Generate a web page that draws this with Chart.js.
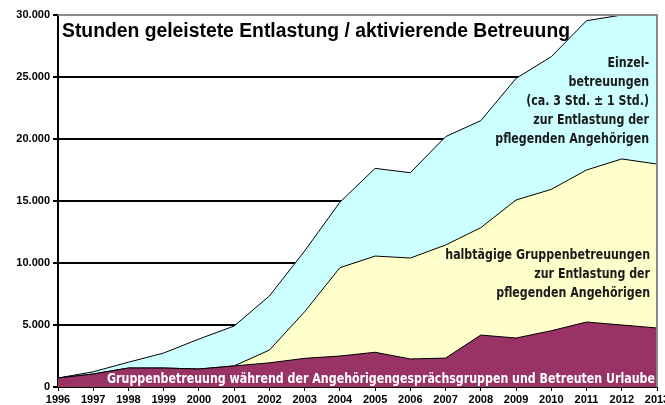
<!DOCTYPE html>
<html>
<head>
<meta charset="utf-8">
<script src="https://cdn.jsdelivr.net/npm/chart.js@4/dist/chart.umd.min.js"></script>
<style>
  html, body { margin: 0; padding: 0; background: #fff; }
  #wrap { width: 665px; height: 405px; position: relative; }
</style>
</head>
<body>
<div id="wrap"><canvas id="chart" width="665" height="405"></canvas></div>
<script>
// DATEN
const jahre = ["1996","1997","1998","1999","2000","2001","2002","2003","2004","2005","2006","2007","2008","2009","2010","2011","2012","2013"];
// Gruppenbetreuung (unten)
const gruppen = [725, 1050, 1530, 1530, 1450, 1700, 1950, 2310, 2500, 2800, 2260, 2330, 4190, 3950, 4540, 5240, 5000, 4760];
// halbtägige Gruppenbetreuungen (Mitte)
const halbtags = [0, 0, 0, 0, 0, 0, 1030, 3760, 7120, 7760, 8140, 9120, 8660, 11130, 11400, 12260, 13390, 13220];
// Einzelbetreuungen (oben)
const einzel = [0, 180, 470, 1210, 2420, 3220, 4360, 4900, 5280, 7070, 6880, 8740, 8630, 9810, 10700, 12040, 11610, 12020];
const yTicks = [0, 5000, 10000, 15000, 20000, 25000, 30000];

const titel = "Stunden geleistete Entlastung / aktivierende Betreuung";
const textEinzel = ["Einzel-", "betreuungen", "(ca. 3 Std. \u00B1 1 Std.)", "zur Entlastung der", "pflegenden Angeh\u00F6rigen"];
const textHalbtags = ["halbt\u00E4gige Gruppenbetreuungen", "zur Entlastung der", "pflegenden Angeh\u00F6rigen"];
const textGruppen = "Gruppenbetreuung w\u00E4hrend der Angeh\u00F6rigengespr\u00E4chsgruppen und Betreuten Urlaube";

const fmt = (v) => v === 0 ? "0" : v.toLocaleString("de-DE");
const condFont = '"DejaVu Sans Condensed", "Liberation Sans Narrow", sans-serif';

// Text schmal gestaucht zeichnen (ähnlich einer Condensed-Schrift)
function schmalText(ctx, text, x, y, align, sx) {
  ctx.save();
  ctx.translate(x, y);
  ctx.scale(sx, 1);
  ctx.textAlign = align;
  ctx.fillText(text, 0, 0);
  ctx.restore();
}

const beschriftung = {
  id: "beschriftung",
  afterDatasetsDraw(chart) {
    const { ctx, chartArea: a } = chart;
    ctx.save();
    // grauer Rahmen oben/rechts
    ctx.strokeStyle = "#8a8a8a";
    ctx.lineWidth = 2;
    ctx.beginPath();
    ctx.moveTo(a.left, a.top);
    ctx.lineTo(a.right, a.top);
    ctx.lineTo(a.right, a.bottom);
    ctx.stroke();

    // Titel
    ctx.font = 'bold 20px "Liberation Sans", Arial, sans-serif';
    const tg = 20 * 508 / ctx.measureText(titel).width;
    ctx.font = "bold " + tg.toFixed(2) + 'px "Liberation Sans", Arial, sans-serif';
    ctx.fillStyle = "#000";
    ctx.textAlign = "left";
    ctx.textBaseline = "alphabetic";
    ctx.fillText(titel, 62, 37);

    // Flächenbeschriftungen
    ctx.font = "bold 14px " + condFont;
    const sx = 548 / ctx.measureText(textGruppen).width;
    ctx.textBaseline = "middle";
    ctx.fillStyle = "#fff";
    schmalText(ctx, textGruppen, 107, 379, "left", sx);

    ctx.fillStyle = "#1a1a1a";
    textEinzel.forEach((t, i) => schmalText(ctx, t, 649, 63 + i * 19, "right", sx));
    textHalbtags.forEach((t, i) => schmalText(ctx, t, 650, 255 + i * 19, "right", sx));
    ctx.restore();
  }
};

const linie = { borderColor: "#000", borderWidth: 1, pointRadius: 0, tension: 0 };

new Chart(document.getElementById("chart"), {
  type: "line",
  data: {
    labels: jahre,
    datasets: [
      { ...linie, label: "Gruppenbetreuung", data: gruppen, backgroundColor: "#993366", fill: "origin" },
      { ...linie, label: "halbtägige Gruppenbetreuungen", data: halbtags, backgroundColor: "#FFFFCC", fill: "-1" },
      { ...linie, label: "Einzelbetreuungen", data: einzel, backgroundColor: "#CCFFFF", fill: "-1" }
    ]
  },
  options: {
    responsive: false,
    animation: false,
    layout: { padding: { top: 15, right: 8, left: 0, bottom: 0 } },
    plugins: { legend: { display: false }, tooltip: { enabled: false } },
    scales: {
      x: {
        offset: false,
        border: { color: "#000", width: 2 },
        grid: { display: true, drawOnChartArea: false, color: "#000", tickLength: 4, lineWidth: 1 },
        ticks: {
          color: "#000", maxRotation: 0, autoSkip: false, padding: 2,
          font: { family: '"Liberation Sans", Arial, sans-serif', size: 11, weight: "bold" }
        },
        afterFit(s) { s.height = 18; s.paddingLeft = 0; s.paddingRight = 0; }
      },
      y: {
        stacked: true,
        min: 0,
        max: 30000,
        border: { color: "#000", width: 2 },
        grid: { color: "#000", lineWidth: 2, tickLength: 5, drawTicks: true },
        afterBuildTicks(s) { s.ticks = yTicks.map(v => ({ value: v })); },
        ticks: {
          color: "#000", padding: 3,
          font: { family: '"Liberation Sans", Arial, sans-serif', size: 11, weight: "bold" },
          callback: (v) => fmt(v)
        },
        afterFit(s) { s.width = 58; s.paddingTop = 0; s.paddingBottom = 0; }
      }
    }
  },
  plugins: [beschriftung]
});
</script>
</body>
</html>
